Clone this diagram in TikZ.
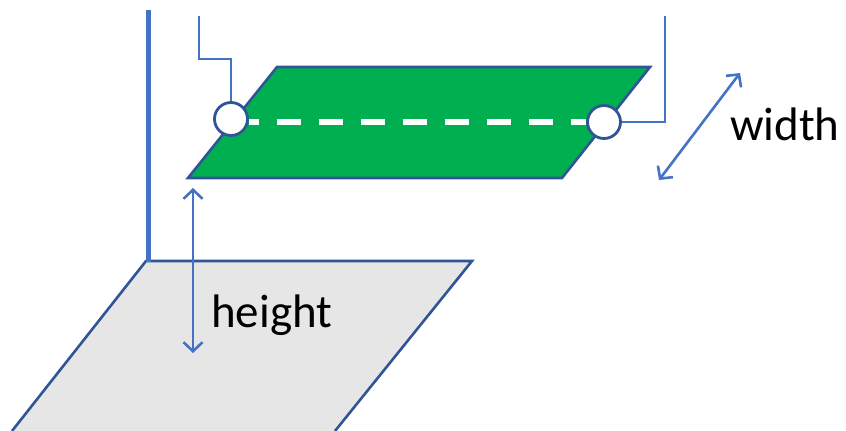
\documentclass[tikz,border=0pt]{standalone}
\usepackage{fontspec}
\setmainfont{Carlito}
\usetikzlibrary{arrows.meta}

\definecolor{plate}{HTML}{00B050}
\definecolor{edge}{HTML}{2F5597}
\definecolor{wire}{HTML}{4472C4}
\definecolor{floor}{HTML}{E7E6E6}

\begin{document}
\begin{tikzpicture}[
  x=1pt, y=-1pt,
  pane/.style={draw=edge, line width=2.6pt, line join=miter},
  pivot/.style={circle, draw=edge, fill=white, line width=2.8pt, minimum size=33pt, inner sep=0pt},
  lead/.style={draw=wire, line width=1.6pt},
  dim/.style={draw=wire, line width=2.6pt, {Straight Barb[length=9pt,width=19pt]}-{Straight Barb[length=9pt,width=19pt]}},
  lbl/.style={inner sep=0pt, font=\fontsize{47}{56}\selectfont},
]
\useasboundingbox (0,0) rectangle (846,431);

% floor plane
\fill [floor] (12,431) -- (146,261) -- (472,261) -- (335,431) -- cycle;
\draw [pane] (12,431) -- (146,261) -- (472,261) -- (335,431);

% pole
\draw [wire, line width=5pt] (148,10) -- (148,262);

% plate
\path [pane, fill=plate] (188,178) -- (277,67) -- (650,67) -- (562,178) -- cycle;

\node [pivot] (lc) at (231,119) {};
\node [pivot] (rc) at (604,122) {};
\draw [white, line width=6pt, dash pattern=on 24pt off 18pt, dash phase=14pt] (lc.east |- rc) -- (rc.west);

% leads
\coordinate (la) at (199,16);
\coordinate (ra) at (665,16);
\draw [lead] (la) |- (231,59) -- (lc.north);
\draw [lead] (rc.east) -| (ra);

% dimensions
\coordinate (h1) at (193,188);
\coordinate (h2) at (193,353);
\draw [dim] (h1) -- (h2);
\node [lbl, anchor=base west] (hl) at (211,327) {height};

\coordinate (w1) at (659,180);
\coordinate (w2) at (740,73);
\draw [dim] (w1) -- (w2);
\node [lbl, anchor=base west] (wl) at (730,140) {width};

\end{tikzpicture}
\end{document}
